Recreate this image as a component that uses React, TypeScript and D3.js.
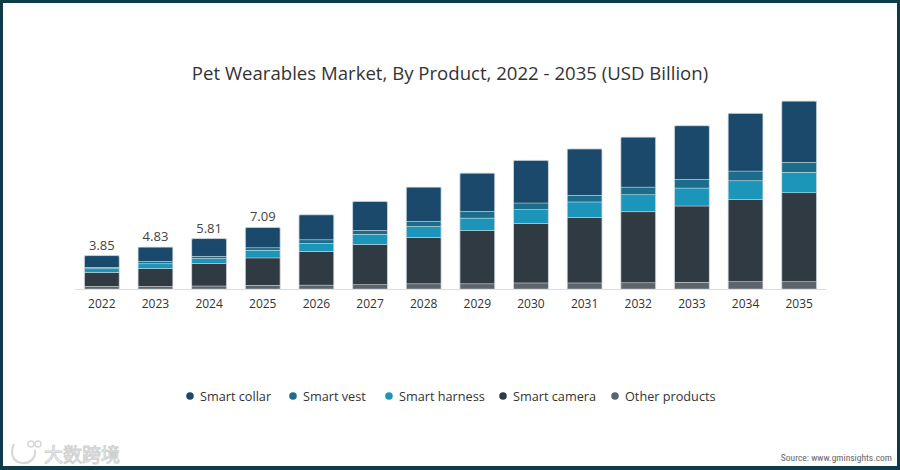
import { useEffect, useRef } from "react";
import * as d3 from "d3";

const years = ["2022", "2023", "2024", "2025", "2026", "2027", "2028", "2029", "2030", "2031", "2032", "2033", "2034", "2035"];
const otherProducts = [0.3, 0.3, 0.35, 0.42, 0.45, 0.5, 0.6, 0.6, 0.7, 0.7, 0.72, 0.77, 0.84, 0.84];
const smartCamera = [1.61, 2.07, 2.57, 3.16, 3.87, 4.64, 5.33, 6.14, 6.83, 7.52, 8.18, 8.79, 9.49, 10.25];
const smartHarness = [0.43, 0.54, 0.58, 0.88, 0.92, 1.15, 1.27, 1.43, 1.61, 1.81, 1.96, 2.07, 2.14, 2.35];
const smartVest = [0.16, 0.26, 0.27, 0.29, 0.43, 0.46, 0.58, 0.76, 0.77, 0.76, 0.88, 1.0, 1.12, 1.15];
const smartCollar = [1.35, 1.66, 2.04, 2.34, 2.88, 3.34, 3.96, 4.42, 4.91, 5.35, 5.76, 6.18, 6.65, 7.06];
const labelled = ["3.85", "4.83", "5.81", "7.09"];

const seriesNames = ["Smart collar", "Smart vest", "Smart harness", "Smart camera", "Other products"];
const seriesColors = ["#1a496b", "#1b6d8b", "#1c95bb", "#2f3a43", "#5d646c"];

const W = 900,
  H = 470,
  baseY = 289,
  left = 75,
  right = 826;

export default function App() {
  const ref = useRef<SVGSVGElement>(null);

  useEffect(() => {
    const svg = d3.select(ref.current);
    svg.selectAll("*").remove();

    // frame
    svg.append("rect").attr("width", W).attr("height", H).attr("fill", "#0e3b48");
    svg.append("rect").attr("x", 3).attr("y", 3).attr("width", W - 6).attr("height", H - 7).attr("fill", "#fff");

    svg
      .append("text")
      .attr("x", 450)
      .attr("y", 80)
      .attr("text-anchor", "middle")
      .attr("font-size", 18.6)
      .attr("fill", "#333")
      .text("Pet Wearables Market, By Product, 2022 - 2035 (USD Billion)");

    const rows = years.map((y, i) => ({
      year: y,
      "Smart collar": smartCollar[i],
      "Smart vest": smartVest[i],
      "Smart harness": smartHarness[i],
      "Smart camera": smartCamera[i],
      "Other products": otherProducts[i],
    }));

    // stack bottom to top
    const stackOrder = [...seriesNames].reverse();
    const stacked = d3.stack<any>().keys(stackOrder)(rows);

    const x = d3.scaleBand().domain(years).range([left, right]).paddingInner(0.35).paddingOuter(0.175);
    const y = d3.scaleLinear().domain([0, 22]).range([baseY, baseY - 22 * 8.68]);
    const color = d3.scaleOrdinal<string, string>().domain(seriesNames).range(seriesColors);

    svg
      .append("line")
      .attr("x1", left)
      .attr("x2", right)
      .attr("y1", baseY + 0.5)
      .attr("y2", baseY + 0.5)
      .attr("stroke", "#dcdcdc");

    const layers = svg
      .append("g")
      .selectAll("g")
      .data(stacked)
      .join("g")
      .attr("fill", (d) => color(d.key));

    layers
      .selectAll("rect")
      .data((d) => d)
      .join("rect")
      .attr("x", (d: any) => x(d.data.year)!)
      .attr("width", x.bandwidth())
      .attr("y", (d) => y(d[1]))
      .attr("height", (d) => y(d[0]) - y(d[1]))
      .attr("stroke", "#ffffff")
      .attr("stroke-opacity", 0.55)
      .attr("stroke-width", 0.6);

    // rounded top cap look
    const top = stacked[stacked.length - 1];
    svg
      .append("g")
      .selectAll("path")
      .data(top)
      .join("path")
      .attr("fill", "none")
      .attr("stroke", "#c9d3da")
      .attr("stroke-width", 0.6)
      .attr("d", (d: any) => {
        const x0 = x(d.data.year)!,
          x1 = x0 + x.bandwidth(),
          yt = y(d[1]),
          yb = baseY;
        return `M${x0},${yb}V${yt + 2}Q${x0},${yt} ${x0 + 2},${yt}H${x1 - 2}Q${x1},${yt} ${x1},${yt + 2}V${yb}`;
      });

    svg
      .append("g")
      .selectAll("text")
      .data(labelled)
      .join("text")
      .attr("x", (_, i) => x(years[i])! + x.bandwidth() / 2)
      .attr("y", (_, i) => y(top[i][1]) - 6)
      .attr("text-anchor", "middle")
      .attr("font-size", 13)
      .attr("fill", "#444")
      .text((d) => d);

    const xAxis = svg
      .append("g")
      .attr("transform", `translate(0,${baseY})`)
      .call(d3.axisBottom(x).tickSize(0).tickPadding(10));
    xAxis.select(".domain").remove();
    xAxis.selectAll("text").attr("font-size", 12).attr("fill", "#333").attr("font-family", "Open Sans, sans-serif");

    // legend
    const legendX = [190, 293, 389, 503, 615];
    const lg = svg
      .append("g")
      .selectAll("g")
      .data(seriesNames)
      .join("g")
      .attr("transform", (_, i) => `translate(${legendX[i]},396)`);
    lg.append("circle").attr("r", 3.8).attr("fill", (d) => color(d));
    lg.append("text")
      .attr("x", 10)
      .attr("y", 4.5)
      .attr("font-size", 12.7)
      .attr("fill", "#333")
      .text((d) => d);

    // watermark + source
    const wm = svg.append("g").attr("opacity", 0.7);
    wm.append("path")
      .attr("d", "M14,444 C10,452 12,462 22,463 C30,464 36,458 35,450")
      .attr("fill", "none")
      .attr("stroke", "#c8c8c8")
      .attr("stroke-width", 2.2);
    wm.append("circle").attr("cx", 31).attr("cy", 444).attr("r", 3).attr("fill", "none").attr("stroke", "#c8c8c8").attr("stroke-width", 1.5);
    wm.append("circle").attr("cx", 38).attr("cy", 444).attr("r", 3).attr("fill", "none").attr("stroke", "#c8c8c8").attr("stroke-width", 1.5);
    wm.append("text")
      .attr("x", 44)
      .attr("y", 462)
      .attr("font-size", 19)
      .attr("font-family", "Noto Sans CJK SC")
      .attr("fill", "#fff")
      .attr("stroke", "#bdbdbd")
      .attr("stroke-width", 1)
      .text("大数跨境");

    svg
      .append("text")
      .attr("x", 892)
      .attr("y", 461)
      .attr("text-anchor", "end")
      .attr("font-size", 9.5)
      .attr("font-family", "Liberation Sans Narrow, Roboto Condensed, sans-serif")
      .attr("fill", "#666")
      .text("Source: www.gminsights.com");
  }, []);

  return (
    <svg
      ref={ref}
      width={W}
      height={H}
      style={{ position: "absolute", left: 0, top: 0, fontFamily: "'Open Sans', sans-serif" }}
    />
  );
}
